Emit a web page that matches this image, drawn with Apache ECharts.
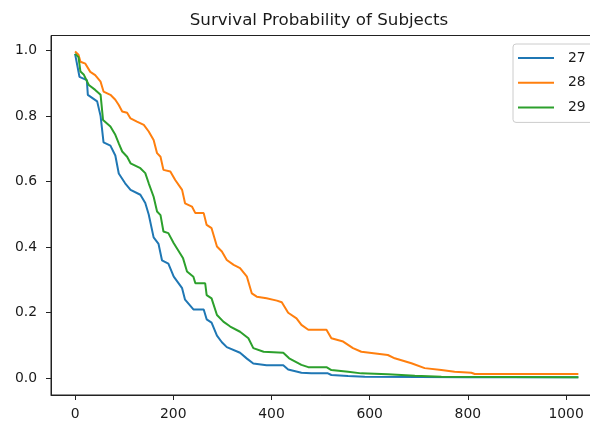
<!DOCTYPE html>
<html>
<head>
<meta charset="utf-8">
<script src="https://cdn.jsdelivr.net/npm/echarts@6/dist/echarts.min.js"></script>
<style>
html,body{margin:0;padding:0;background:#fff;}
#chart{width:590px;height:422px;}
</style>
</head>
<body>
<div id="chart"></div>
<script>
const titleText = 'Survival Probability of Subjects';
const seriesNames = ['27', '28', '29'];
const xTicks = [0, 200, 400, 600, 800, 1000];
const yTicks = [0, 0.2, 0.4, 0.6, 0.8, 1.0];

const t27 = [0,9,24,26,45,52,58,72,82,89,102,113,133,143,150,160,170,177,190,201,218,224,241,262,268,278,289,299,309,336,350,363,390,424,434,461,481,515,522,556,590,700,800,1025];
const s27 = [.99,.92,.91,.865,.845,.80,.72,.71,.68,.625,.595,.575,.56,.535,.50,.43,.41,.36,.35,.31,.275,.24,.21,.21,.18,.17,.13,.11,.095,.078,.06,.045,.04,.04,.027,.017,.015,.015,.01,.007,.005,.004,.003,.003];

const t28 = [0,7,11,21,31,41,52,58,72,82,89,96,106,113,126,140,150,160,167,174,180,194,204,218,224,238,245,262,268,278,289,299,309,323,336,350,360,370,390,411,421,434,451,461,475,512,522,546,566,583,637,651,685,712,746,773,807,814,1025];
const s28 = [.997,.987,.966,.96,.935,.925,.905,.875,.865,.85,.834,.814,.81,.793,.783,.773,.753,.727,.687,.676,.636,.631,.605,.575,.534,.524,.504,.504,.468,.458,.402,.387,.361,.346,.336,.31,.259,.249,.244,.237,.232,.2,.183,.163,.148,.148,.122,.112,.092,.081,.071,.061,.046,.031,.025,.02,.017,.013,.013];

const t29 = [0,7,11,18,28,41,52,57,72,82,89,96,106,113,133,143,150,160,167,174,180,190,201,214,220,228,241,245,265,268,278,289,302,316,336,353,363,384,424,436,461,475,512,522,556,583,637,692,746,1025];
const s29 = [.99,.98,.936,.926,.895,.88,.865,.788,.768,.743,.717,.692,.676,.656,.641,.626,.595,.554,.509,.498,.448,.443,.412,.381,.366,.326,.31,.29,.29,.254,.244,.193,.173,.158,.142,.122,.092,.081,.078,.061,.041,.034,.034,.025,.02,.015,.012,.008,.005,.003];

const colors = ['#1f77b4', '#ff7f0e', '#2ca02c'];
const zip = (a, b) => a.map((v, i) => [v, b[i]]);
const allT = [t27, t28, t29];
const allS = [s27, s28, s29];

const font = 'DejaVu Sans';
const chart = echarts.init(document.getElementById('chart'), null, {renderer: 'canvas'});
chart.setOption({
  animation: false,
  backgroundColor: '#fff',
  title: {
    text: titleText,
    left: 319, textAlign: 'center', top: 12, padding: 0,
    textStyle: {fontFamily: font, fontSize: 16.7, fontWeight: 'normal', color: '#1a1a1a'}
  },
  legend: {
    data: seriesNames,
    orient: 'vertical',
    left: 513, top: 44,
    padding: [7, 20, 8, 4],
    itemWidth: 36, itemHeight: 14, itemGap: 10.7,
    itemStyle: {opacity: 0},
    lineStyle: {width: 2},
    borderColor: '#cccccc', borderWidth: 1, borderRadius: 3,
    backgroundColor: 'rgba(255,255,255,0.8)',
    textStyle: {fontFamily: font, fontSize: 13.9, color: '#1a1a1a', padding: [0, 0, 0, 9]}
  },
  grid: {
    left: 51, top: 35.5, width: 552.4, height: 359.5,
    outerBoundsMode: 'none',
    show: true, borderColor: '#222', borderWidth: 1, backgroundColor: 'transparent',
    containLabel: false
  },
  xAxis: {
    type: 'value', min: -49, max: 1076,
    axisLine: {onZero: false, lineStyle: {color: '#222', width: 1}},
    axisTick: {show: true, length: 5, customValues: xTicks, lineStyle: {color: '#222'}},
    axisLabel: {customValues: xTicks, margin: 12, fontFamily: font, fontSize: 13.9, color: '#1a1a1a',
      formatter: v => String(v)},
    splitLine: {show: false}
  },
  yAxis: {
    type: 'value', min: -0.051, max: 1.046,
    axisLine: {show: true, onZero: false, lineStyle: {color: '#222', width: 1}},
    axisTick: {show: true, length: 5, customValues: yTicks, lineStyle: {color: '#222'}},
    axisLabel: {customValues: yTicks, margin: 14, fontFamily: font, fontSize: 13.9, color: '#1a1a1a',
      formatter: v => v.toFixed(1)},
    splitLine: {show: false}
  },
  series: seriesNames.map((n, i) => ({
    name: n, type: 'line', data: zip(allT[i], allS[i]),
    showSymbol: false, symbol: 'none',
    lineStyle: {color: colors[i], width: 2},
    itemStyle: {color: colors[i]}
  }))
});
</script>
</body>
</html>
